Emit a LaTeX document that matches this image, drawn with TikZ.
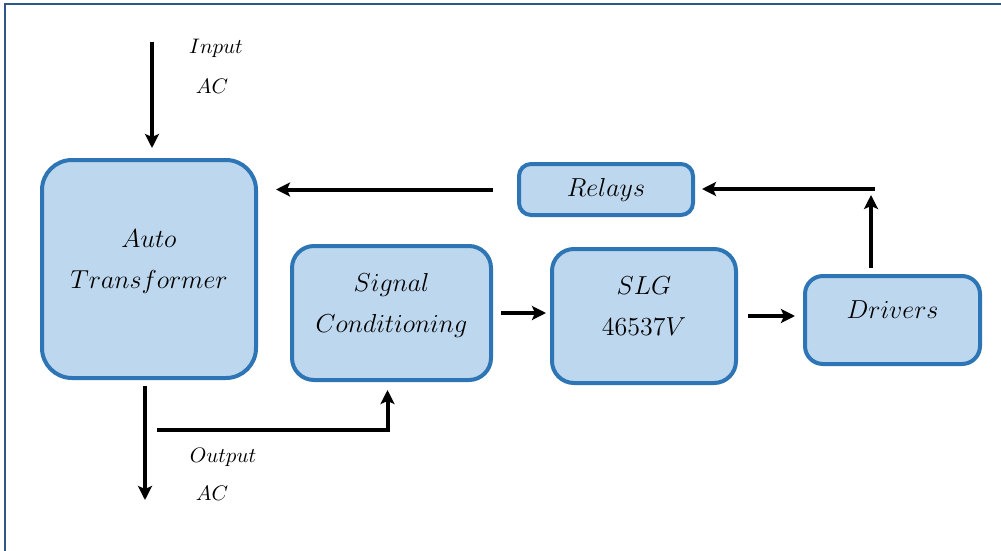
\documentclass[tikz,border=0pt]{standalone}
\usepackage{fix-cm}
\usepackage{tikz}
\usetikzlibrary{arrows.meta, shapes, positioning}
\usepackage{xcolor}
\definecolor{paleblue}{RGB}{189,215,238}
\definecolor{steelblue}{RGB}{46,117,182}
\definecolor{framenavy}{RGB}{43,87,137}
\tikzset{bluebox/.style={rectangle, rounded corners=12pt, fill=paleblue, draw=steelblue, line width=2pt, font=\fontsize{13}{20.5}\selectfont},
blackarrow/.style={-{Stealth[length=7pt, width=7pt, inset=1.5pt]}, line width=2pt, black},
smalllabel/.style={font=\fontsize{10.5}{12}\selectfont}}
\newcommand{\boxtext}[1]{\raisebox{1.5pt}[0pt][0pt]{\begin{tabular}{@{}c@{}}#1\end{tabular}}}

\begin{document}
\begin{tikzpicture}[x=0.5pt, y=-0.5pt]
        \useasboundingbox (0,0) rectangle (1001,551);
        % Frame
        \draw[framenavy, line width=1pt] (5,551) -- (5,4) -- (1001,4);
        % Boxes
        \node[bluebox, rounded corners=15pt, minimum width=107pt, minimum height=109pt] (auto) at (149,269) {\boxtext{$Auto$\\$Transformer$}};
        \node[bluebox, rounded corners=6pt, minimum width=87pt, minimum height=25.5pt] (relay) at (606,189.5) {$Relays$};
        \node[bluebox, rounded corners=11pt, minimum width=99.5pt, minimum height=67pt] (sig) at (391.5,313) {\boxtext{$Signal$\\$Conditioning$}};
        \node[bluebox, rounded corners=11pt, minimum width=92pt, minimum height=67pt] (slg) at (644,316) {\boxtext{$SLG$\\$46537V$}};
        \node[bluebox, rounded corners=9pt, minimum width=87.5pt, minimum height=44pt] (drv) at (892.5,320) {\boxtext{$Drivers$}};
        % Labels
        \node[smalllabel] (intxt) at (216,48) {$Input$};
        \node[smalllabel] (inac) at (212,86) {$AC$};
        \node[smalllabel] (outtxt) at (223,457) {$Output$};
        \node[smalllabel] (outac) at (212,493) {$AC$};
        % Free ends
        \coordinate (inp) at (152,42);
        \coordinate (outp) at (145,500);
        \coordinate (tap) at (157,430);
        \coordinate (bend) at (875,189);
        % Arrows
        \draw[blackarrow, shorten >=5pt] (inp) -- (inp |- auto.north);
        \draw[blackarrow, shorten <=3pt] (outp |- auto.south) -- (outp);
        \draw[blackarrow, shorten >=4pt] (tap) -| ([xshift=-2pt]sig.south);
        \draw[blackarrow, shorten <=12pt, shorten >=9pt] (relay.west) -- (relay.west -| auto.east);
        \draw[blackarrow, shorten <=3pt, shorten >=3pt] ([xshift=-2pt]bend |- drv.north) -- ([xshift=-2pt]bend);
        \draw[blackarrow, shorten >=3.5pt] (bend) -- (bend -| relay.east);
        \draw[blackarrow, shorten <=4pt, shorten >=2pt] (sig.east) -- (sig.east -| slg.west);
        \draw[blackarrow, shorten <=5pt, shorten >=4pt] (slg.east) -- (slg.east -| drv.west);
    \end{tikzpicture}
\end{document}
